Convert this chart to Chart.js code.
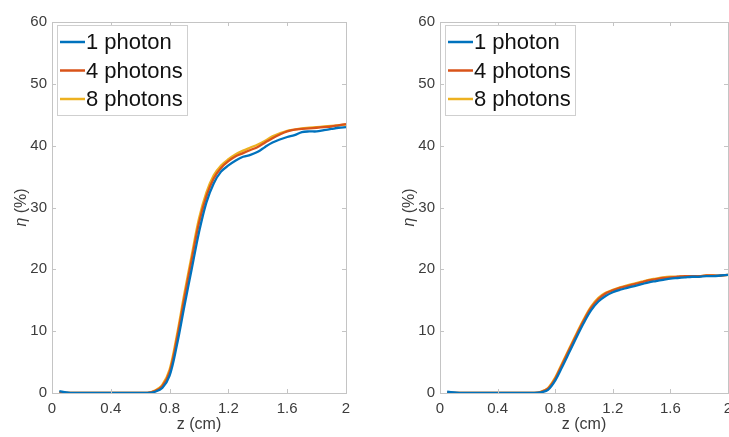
<!DOCTYPE html>
<html>
<head>
<meta charset="utf-8">
<script src="https://cdn.jsdelivr.net/npm/chart.js@4.4.1/dist/chart.umd.min.js"></script>
<style>
  html, body { margin: 0; padding: 0; background: #ffffff; }
  body { width: 729px; height: 437px; overflow: hidden; position: relative; }
  .panel { position: absolute; top: 0; }
</style>
</head>
<body>
<div class="panel" style="left:0px;width:370px;height:437px;"><canvas id="c1" width="370" height="437"></canvas></div>
<div class="panel" style="left:388px;width:380px;height:437px;"><canvas id="c2" width="380" height="437"></canvas></div>
<script>
// ---------------- data ----------------
const zValues = [0.05,0.10,0.15,0.20,0.25,0.30,0.35,0.40,0.45,0.50,0.55,0.60,0.65,
  0.70,0.75,0.80,0.85,0.90,0.95,1.00,1.05,1.10,1.15,1.20,1.25,1.30,1.35,1.40,1.45,1.50,
  1.55,1.60,1.65,1.70,1.75,1.80,1.85,1.90,1.95,2.00];

const seriesLabels = ['1 photon', '4 photons', '8 photons'];

// left panel
const leftOnePhoton = [0.3,0.1,0,0,0,0,0,0,0,0,0,0,0,
  0.2,0.8,2.8,7.8,14.0,20.0,26.0,30.8,33.9,35.8,36.8,37.6,38.2,38.5,39.0,39.8,40.5,
  41.0,41.4,41.7,42.2,42.3,42.3,42.5,42.7,42.9,43.0];
const leftFourPhotons = [0.1,0,0,0,0,0,0,0,0,0,0,0,0,
  0.3,1.1,3.4,8.8,15.3,21.5,27.5,31.8,34.7,36.4,37.5,38.3,38.8,39.3,39.8,40.5,41.2,
  41.8,42.3,42.6,42.7,42.8,42.9,43.0,43.1,43.3,43.5];
const leftEightPhotons = [0.1,0,0,0,0,0,0,0,0,0,0,0,0,
  0.4,1.3,3.8,9.4,16.0,22.2,28.2,32.4,35.2,36.8,37.8,38.6,39.2,39.7,40.2,40.8,41.5,
  42.0,42.4,42.6,42.8,42.9,43.0,43.1,43.2,43.3,43.4];

// right panel
const rightOnePhoton = [0.2,0.1,0,0,0,0,0,0,0,0,0,0,0,
  0.1,0.5,2.0,4.3,6.7,9.1,11.4,13.4,14.8,15.7,16.3,16.7,17.0,17.3,17.6,17.9,18.1,
  18.3,18.5,18.6,18.7,18.8,18.8,18.9,18.9,19.0,19.1];
const rightFourPhotons = [0.1,0,0,0,0,0,0,0,0,0,0,0,0,
  0.15,0.7,2.3,4.7,7.1,9.5,11.8,13.8,15.2,16.1,16.6,17.0,17.3,17.6,17.9,18.2,18.4,
  18.6,18.7,18.8,18.9,18.9,18.9,19.0,19.0,19.0,19.1];
const rightEightPhotons = [0.1,0,0,0,0,0,0,0,0,0,0,0,0,
  0.2,0.8,2.5,4.9,7.3,9.7,12.0,14.0,15.4,16.2,16.7,17.1,17.4,17.7,18.0,18.3,18.5,
  18.7,18.8,18.8,18.9,18.9,18.9,19.0,19.0,19.0,19.1];

const xTickValues = [0, 0.4, 0.8, 1.2, 1.6, 2];
const xTickLabels = ['0', '0.4', '0.8', '1.2', '1.6', '2'];
const yTickValues = [0, 10, 20, 30, 40, 50, 60];
const yTickLabels = ['0', '10', '20', '30', '40', '50', '60'];

// ---------------- style ----------------
const colors = ['#0072BD', '#D95319', '#EDB120'];
const boxColor = '#c4c4c4';
const textColor = '#3c3c3c';
const fontFamily = '"Liberation Sans", Arial, Helvetica, sans-serif';

function toPoints(ys) { return zValues.map((z, i) => ({x: z, y: ys[i]})); }

const matlabAxes = {
  id: 'matlabAxes',
  afterDatasetsDraw(chart) {
    const {ctx, chartArea: a, scales: {x, y}} = chart;
    ctx.save();
    // box
    ctx.strokeStyle = boxColor;
    ctx.lineWidth = 1;
    ctx.strokeRect(Math.round(a.left) + 0.5, Math.round(a.top) + 0.5,
                   Math.round(a.right - a.left), Math.round(a.bottom - a.top));
    // inward ticks
    const tl = 4;
    ctx.beginPath();
    xTickValues.forEach(v => {
      const px = Math.round(x.getPixelForValue(v)) + 0.5;
      ctx.moveTo(px, a.bottom); ctx.lineTo(px, a.bottom - tl);
      ctx.moveTo(px, a.top); ctx.lineTo(px, a.top + tl);
    });
    yTickValues.forEach(v => {
      const py = Math.round(y.getPixelForValue(v)) + 0.5;
      ctx.moveTo(a.left, py); ctx.lineTo(a.left + tl, py);
      ctx.moveTo(a.right, py); ctx.lineTo(a.right - tl, py);
    });
    ctx.stroke();

    // y title: italic eta + " (%)"
    ctx.translate(a.left - 30, (a.top + a.bottom) / 2);
    ctx.rotate(-Math.PI / 2);
    ctx.fillStyle = textColor;
    ctx.textBaseline = 'middle';
    ctx.textAlign = 'left';
    const f1 = 'italic 16px ' + fontFamily, f2 = '16px ' + fontFamily;
    ctx.font = f1; const w1 = ctx.measureText('η').width;
    ctx.font = f2; const w2 = ctx.measureText(' (%)').width;
    let sx = -(w1 + w2) / 2;
    ctx.font = f1; ctx.fillText('η', sx, 0);
    ctx.font = f2; ctx.fillText(' (%)', sx + w1, 0);
    ctx.setTransform(1, 0, 0, 1, 0, 0);

    // legend
    const bx = a.left + 5.5, by = a.top + 3.5, bw = 130, bh = 90;
    ctx.fillStyle = '#ffffff';
    ctx.fillRect(bx, by, bw, bh);
    ctx.strokeStyle = '#cfcfcf';
    ctx.lineWidth = 1;
    ctx.strokeRect(bx, by, bw, bh);
    ctx.font = '22px ' + fontFamily;
    ctx.textBaseline = 'middle';
    ctx.textAlign = 'left';
    chart.data.datasets.forEach((ds, i) => {
      const cy = a.top + 20 + i * 28.5;
      ctx.strokeStyle = ds.borderColor;
      ctx.lineWidth = 2.5;
      ctx.beginPath();
      ctx.moveTo(a.left + 8, cy); ctx.lineTo(a.left + 33, cy);
      ctx.stroke();
      ctx.fillStyle = '#111111';
      ctx.fillText(ds.label, a.left + 34, cy + 1);
    });
    ctx.restore();
  }
};

function makeChart(id, series, padRight) {
  return new Chart(document.getElementById(id), {
    type: 'line',
    data: {
      datasets: series.map((s, i) => ({
        label: seriesLabels[i],
        data: toPoints(s),
        borderColor: colors[i],
        backgroundColor: colors[i],
        borderWidth: 2.3,
        pointRadius: 0,
        tension: 0.35,
        fill: false
      }))
    },
    options: {
      responsive: false,
      animation: false,
      events: [],
      layout: { padding: { left: 0, top: 22, right: padRight, bottom: 0 } },
      plugins: { legend: { display: false }, tooltip: { enabled: false } },
      scales: {
        x: {
          type: 'linear', min: 0, max: 2,
          grid: { display: false, drawTicks: false },
          border: { display: false },
          afterBuildTicks: s => { s.ticks = xTickValues.map(v => ({value: v})); },
          afterFit: s => { s.height = 44; s.paddingLeft = 0; s.paddingRight = 0; },
          ticks: {
            autoSkip: false, maxRotation: 0, padding: 7,
            color: textColor, font: { family: fontFamily, size: 15 },
            callback: (v) => xTickLabels[xTickValues.indexOf(v)] ?? ''
          },
          title: {
            display: true, text: 'z (cm)', color: textColor,
            font: { family: fontFamily, size: 16 },
            padding: { top: 0, bottom: 3 }
          }
        },
        y: {
          type: 'linear', min: 0, max: 60,
          grid: { display: false, drawTicks: false },
          border: { display: false },
          afterBuildTicks: s => { s.ticks = yTickValues.map(v => ({value: v})); },
          afterFit: s => { s.width = 52; s.paddingTop = 0; s.paddingBottom = 0; },
          ticks: {
            autoSkip: false, padding: 5,
            color: textColor, font: { family: fontFamily, size: 15 },
            callback: (v) => yTickLabels[yTickValues.indexOf(v)] ?? ''
          }
        }
      }
    },
    plugins: [matlabAxes]
  });
}

makeChart('c1', [leftOnePhoton, leftFourPhotons, leftEightPhotons], 24);
makeChart('c2', [rightOnePhoton, rightFourPhotons, rightEightPhotons], 40);
</script>
</body>
</html>
